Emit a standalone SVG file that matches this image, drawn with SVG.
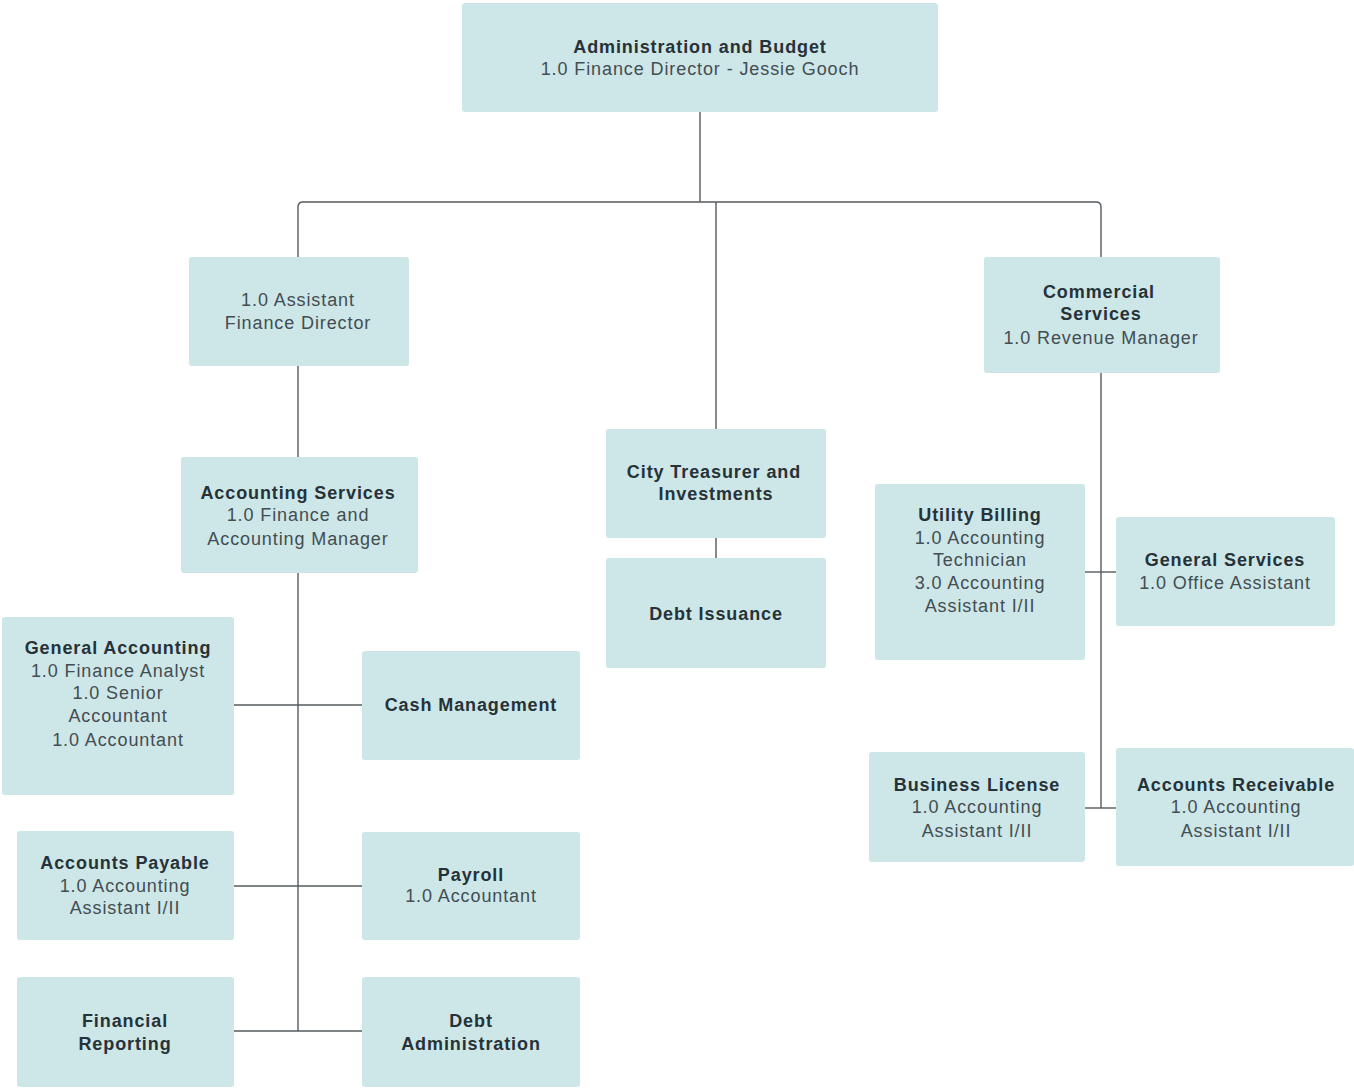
<svg xmlns="http://www.w3.org/2000/svg" width="1354" height="1089" viewBox="0 0 1354 1089">
<style>
.box{fill:#cde6e7;}
.t{font-family:"Liberation Sans",Arial,sans-serif;font-size:18px;letter-spacing:0.9px;text-anchor:middle;fill:#434d52;}
.b{font-weight:bold;fill:#263238;}
.c{fill:none;stroke:#555b5e;stroke-width:1.4;}
</style>
<rect width="1354" height="1089" fill="#ffffff"/>
<g id="connectors">
<path class="c" d="M700,112 V202"/>
<path class="c" d="M298,257 V207 Q298,202 303,202 H1096 Q1101,202 1101,207 V257"/>
<path class="c" d="M716,202 V429"/>
<path class="c" d="M716,538 V558"/>
<path class="c" d="M298,366 V457"/>
<path class="c" d="M298,573 V1031"/>
<path class="c" d="M234,705 H362"/>
<path class="c" d="M234,886 H362"/>
<path class="c" d="M234,1031 H362"/>
<path class="c" d="M1101,373 V808"/>
<path class="c" d="M1085,572 H1117"/>
<path class="c" d="M1085,808 H1117"/>
</g>
<g id="admin">
<rect class="box" x="462" y="3" width="476" height="109" rx="3"/>
<text class="t b" x="700" y="53">Administration and Budget</text>
<text class="t" x="700" y="75">1.0 Finance Director - Jessie Gooch</text>
</g>
<g id="asst-director">
<rect class="box" x="189" y="257" width="220" height="109" rx="3"/>
<text class="t" x="298" y="306">1.0 Assistant</text>
<text class="t" x="298" y="329">Finance Director</text>
</g>
<g id="accounting-services">
<rect class="box" x="181" y="457" width="237" height="116" rx="3"/>
<text class="t b" x="298" y="499">Accounting Services</text>
<text class="t" x="298" y="521">1.0 Finance and</text>
<text class="t" x="298" y="545">Accounting Manager</text>
</g>
<g id="general-accounting">
<rect class="box" x="2" y="617" width="232" height="178" rx="3"/>
<text class="t b" x="118" y="654">General Accounting</text>
<text class="t" x="118" y="677">1.0 Finance Analyst</text>
<text class="t" x="118" y="699">1.0 Senior</text>
<text class="t" x="118" y="722">Accountant</text>
<text class="t" x="118" y="746">1.0 Accountant</text>
</g>
<g id="cash-management">
<rect class="box" x="362" y="651" width="218" height="109" rx="3"/>
<text class="t b" x="471" y="711">Cash Management</text>
</g>
<g id="accounts-payable">
<rect class="box" x="17" y="831" width="217" height="109" rx="3"/>
<text class="t b" x="125" y="869">Accounts Payable</text>
<text class="t" x="125" y="892">1.0 Accounting</text>
<text class="t" x="125" y="914">Assistant I/II</text>
</g>
<g id="payroll">
<rect class="box" x="362" y="832" width="218" height="108" rx="3"/>
<text class="t b" x="471" y="881">Payroll</text>
<text class="t" x="471" y="902">1.0 Accountant</text>
</g>
<g id="financial-reporting">
<rect class="box" x="17" y="977" width="217" height="110" rx="3"/>
<text class="t b" x="125" y="1027">Financial</text>
<text class="t b" x="125" y="1050">Reporting</text>
</g>
<g id="debt-administration">
<rect class="box" x="362" y="977" width="218" height="110" rx="3"/>
<text class="t b" x="471" y="1027">Debt</text>
<text class="t b" x="471" y="1050">Administration</text>
</g>
<g id="city-treasurer">
<rect class="box" x="606" y="429" width="220" height="109" rx="3"/>
<text class="t b" x="714" y="478">City Treasurer and</text>
<text class="t b" x="716" y="500">Investments</text>
</g>
<g id="debt-issuance">
<rect class="box" x="606" y="558" width="220" height="110" rx="3"/>
<text class="t b" x="716" y="620">Debt Issuance</text>
</g>
<g id="commercial-services">
<rect class="box" x="984" y="257" width="236" height="116" rx="3"/>
<text class="t b" x="1099" y="298">Commercial</text>
<text class="t b" x="1101" y="320">Services</text>
<text class="t" x="1101" y="344">1.0 Revenue Manager</text>
</g>
<g id="utility-billing">
<rect class="box" x="875" y="484" width="210" height="176" rx="3"/>
<text class="t b" x="980" y="521">Utility Billing</text>
<text class="t" x="980" y="544">1.0 Accounting</text>
<text class="t" x="980" y="566">Technician</text>
<text class="t" x="980" y="589">3.0 Accounting</text>
<text class="t" x="980" y="612">Assistant I/II</text>
</g>
<g id="general-services">
<rect class="box" x="1116" y="517" width="219" height="109" rx="3"/>
<text class="t b" x="1225" y="566">General Services</text>
<text class="t" x="1225" y="589">1.0 Office Assistant</text>
</g>
<g id="business-license">
<rect class="box" x="869" y="752" width="216" height="110" rx="3"/>
<text class="t b" x="977" y="791">Business License</text>
<text class="t" x="977" y="813">1.0 Accounting</text>
<text class="t" x="977" y="837">Assistant I/II</text>
</g>
<g id="accounts-receivable">
<rect class="box" x="1116" y="748" width="238" height="118" rx="3"/>
<text class="t b" x="1236" y="791">Accounts Receivable</text>
<text class="t" x="1236" y="813">1.0 Accounting</text>
<text class="t" x="1236" y="837">Assistant I/II</text>
</g>
</svg>
